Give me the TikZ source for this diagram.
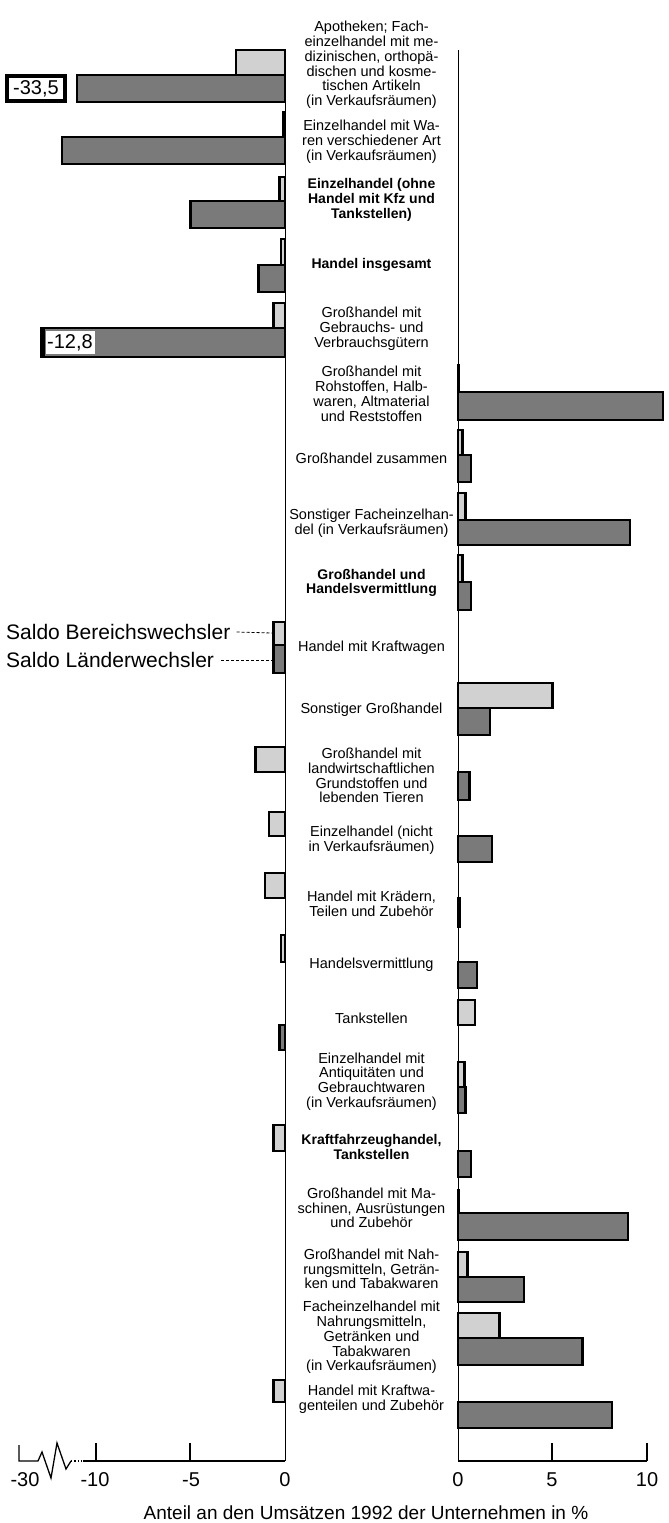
\documentclass[tikz,border=0pt]{standalone}
\usepackage{fontspec}
\setmainfont{Liberation Sans}
\newcommand\mybar[4]{%
  \pgfmathsetmacro\myorig{(#4<0)?285:458}%
  \pgfmathsetmacro\myend{\myorig+18.9*(#4)}%
  \draw[#1] (\myorig,#2) rectangle (\myend,#3);}
\begin{document}
\begin{tikzpicture}[x=1pt,y=-1pt,
  lab/.style={font=\fontsize{14.5}{14.8}\selectfont, align=center, inner sep=0pt},
  labb/.style={font=\fontsize{14}{14.8}\selectfont\bfseries, align=center, inner sep=0pt},
  lightbar/.style={draw=black, line width=2.5pt, fill=black!18},
  darkbar/.style={draw=black, line width=2.5pt, fill=black!52},
  axisline/.style={line width=1.3pt},
  colline/.style={line width=1pt},
  ticklab/.style={font=\fontsize{20}{22}\selectfont, inner sep=0pt},
  vallab/.style={font=\fontsize{20}{22}\selectfont, inner sep=0pt},
  legtext/.style={font=\fontsize{21}{24}\selectfont, inner sep=0pt, anchor=west},
  leader/.style={line width=0.8pt, dash pattern=on 3pt off 2pt}]
\fill[white] (0,0) rectangle (669,1523);
\useasboundingbox (0,0) rectangle (669,1523);

% column lines
\draw[colline] (285,50) -- (285,1461);
\draw[colline] (458,50) -- (458,1461);

% category labels
\node[lab] (t1) at (371.5,65) {Apotheken; Fach-\\einzelhandel mit me-\\dizinischen, orthopä-\\dischen und kosme-\\tischen Artikeln\\(in Verkaufsräumen)};
\node[lab] (t2) at (371.5,142) {Einzelhandel mit Wa-\\ren verschiedener Art\\(in Verkaufsräumen)};
\node[labb] (t3) at (371.5,200) {Einzelhandel (ohne\\Handel mit Kfz und\\Tankstellen)};
\node[labb] (t4) at (371.5,265) {Handel insgesamt};
\node[lab] (t5) at (371.5,328.5) {Großhandel mit\\Gebrauchs- und\\Verbrauchsgütern};
\node[lab] (t6) at (371.5,394) {Großhandel mit\\Rohstoffen, Halb-\\waren, Altmaterial\\und Reststoffen};
\node[lab] (t7) at (371.5,458) {Großhandel zusammen};
\node[lab] (t8) at (371.5,523) {Sonstiger Facheinzelhan-\\del (in Verkaufsräumen)};
\node[labb] (t9) at (371.5,583) {Großhandel und\\Handelsvermittlung};
\node[lab] (t10) at (371.5,648) {Handel mit Kraftwagen};
\node[lab] (t11) at (371.5,710) {Sonstiger Großhandel};
\node[lab] (t12) at (371.5,775.5) {Großhandel mit\\landwirtschaftlichen\\Grundstoffen und\\lebenden Tieren};
\node[lab] (t13) at (371.5,840) {Einzelhandel (nicht\\in Verkaufsräumen)};
\node[lab] (t14) at (371.5,903.5) {Handel mit Krädern,\\Teilen und Zubehör};
\node[lab] (t15) at (371.5,965) {Handelsvermittlung};
\node[lab] (t16) at (371.5,1018) {Tankstellen};
\node[lab] (t17) at (371.5,1081.5) {Einzelhandel mit\\Antiquitäten und\\Gebrauchtwaren\\(in Verkaufsräumen)};
\node[labb] (t18) at (371.5,1147) {Kraftfahrzeughandel,\\Tankstellen};
\node[lab] (t19) at (371.5,1208) {Großhandel mit Ma-\\schinen, Ausrüstungen\\und Zubehör};
\node[lab] (t20) at (371.5,1269) {Großhandel mit Nah-\\rungsmitteln, Geträn-\\ken und Tabakwaren};
\node[lab] (t21) at (371.5,1337.5) {Facheinzelhandel mit\\Nahrungsmitteln,\\Getränken und\\Tabakwaren\\(in Verkaufsräumen)};
\node[lab] (t22) at (371.5,1399.5) {Handel mit Kraftwa-\\genteilen und Zubehör};

% bars: light = Saldo Bereichswechsler, dark = Saldo Laenderwechsler
% 1 (dark bar broken, value -33,5)
\mybar{lightbar}{50}{75}{-2.6}
\draw[darkbar] (77,75) rectangle (285,102);
\fill[black] (5,74) rectangle (67,103);
\fill[white] (9,78) rectangle (63,99);
\node[vallab] (v1) at (36,89) {-33,5};
% 2
\mybar{lightbar}{112}{137}{-0.1}
\mybar{darkbar}{137}{164}{-11.8}
% 3
\mybar{lightbar}{177}{201}{-0.3}
\mybar{darkbar}{201}{228}{-5.0}
% 4
\mybar{lightbar}{239}{265}{-0.2}
\mybar{darkbar}{265}{292}{-1.4}
% 5
\mybar{lightbar}{303}{328}{-0.6}
\mybar{darkbar}{328}{357}{-12.8}
\fill[black] (40,327) rectangle (45,358);
\fill[white] (46,331) rectangle (95,354);
\node[vallab] (v5) at (70,343) {-12,8};
% 6
\mybar{lightbar}{365}{392}{0.05}
\mybar{darkbar}{392}{420}{10.85}
% 7
\mybar{lightbar}{430}{455}{0.25}
\mybar{darkbar}{455}{482}{0.7}
% 8
\mybar{lightbar}{493}{520}{0.4}
\mybar{darkbar}{520}{545}{9.1}
% 9
\mybar{lightbar}{555}{582}{0.25}
\mybar{darkbar}{582}{610}{0.7}
% 10
\mybar{lightbar}{622}{645}{-0.6}
\mybar{darkbar}{645}{673}{-0.6}
% 11
\mybar{lightbar}{683}{708}{5.0}
\mybar{darkbar}{708}{735}{1.7}
% 12
\mybar{lightbar}{747}{772}{-1.55}
\mybar{darkbar}{772}{800}{0.6}
% 13
\mybar{lightbar}{812}{836}{-0.85}
\mybar{darkbar}{836}{862}{1.8}
% 14
\mybar{lightbar}{873}{898}{-1.05}
\mybar{darkbar}{898}{927}{0.1}
% 15
\mybar{lightbar}{935}{962}{-0.2}
\mybar{darkbar}{962}{988}{1.0}
% 16
\mybar{lightbar}{1000}{1025}{0.9}
\mybar{darkbar}{1025}{1050}{-0.3}
% 17
\mybar{lightbar}{1062}{1087}{0.35}
\mybar{darkbar}{1087}{1113}{0.4}
% 18
\mybar{lightbar}{1125}{1151}{-0.6}
\mybar{darkbar}{1151}{1177}{0.7}
% 19
\mybar{lightbar}{1190}{1213}{0.05}
\mybar{darkbar}{1213}{1240}{9.0}
% 20
\mybar{lightbar}{1252}{1277}{0.5}
\mybar{darkbar}{1277}{1302}{3.5}
% 21
\mybar{lightbar}{1313}{1338}{2.2}
\mybar{darkbar}{1338}{1365}{6.6}
% 22
\mybar{lightbar}{1380}{1402}{-0.6}
\mybar{darkbar}{1402}{1428}{8.15}

% legend
\coordinate (cB) at (272,633);
\coordinate (cL) at (272,660);
\node[legtext] (legB) at (6,632) {Saldo Bereichswechsler};
\node[legtext] (legL) at (6,660) {Saldo Länderwechsler};
\draw[leader] ([xshift=6pt]legB.east) -- (cB);
\draw[leader] ([xshift=7pt]legL.east) -- (cL);

% axes
\draw[axisline] (19,1445) -- (19,1461) -- (38,1461) -- (42,1452) -- (51,1478) -- (57,1443) -- (66,1469) -- (71,1461);
\draw[axisline, dotted] (71,1461) -- (83,1461);
\draw[axisline] (83,1461) -- (285,1461);
\draw[axisline] (96,1443) -- (96,1461);
\draw[axisline] (190,1443) -- (190,1461);
\draw[axisline] (458,1461) -- (647,1461);
\draw[axisline] (552,1443) -- (552,1461);
\draw[axisline] (647,1443) -- (647,1461);

\node[ticklab] (k1) at (25,1480) {-30};
\node[ticklab] (k2) at (95,1480) {-10};
\node[ticklab] (k3) at (191,1480) {-5};
\node[ticklab] (k4) at (285,1480) {0};
\node[ticklab] (k5) at (458,1480) {0};
\node[ticklab] (k6) at (552,1480) {5};
\node[ticklab] (k7) at (647,1480) {10};

\node[font=\fontsize{19}{22}\selectfont, inner sep=0pt] (cap) at (366,1513) {Anteil an den Umsätzen 1992 der Unternehmen in \%};
\end{tikzpicture}
\end{document}
